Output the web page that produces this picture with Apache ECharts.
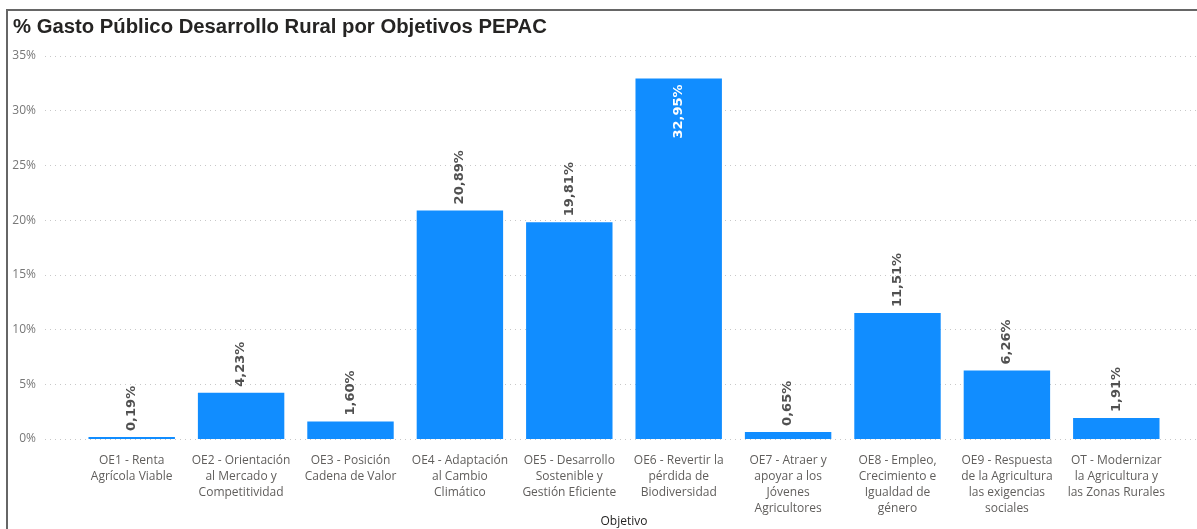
<!DOCTYPE html>
<html>
<head>
<meta charset="utf-8">
<script src="https://cdn.jsdelivr.net/npm/echarts@6/dist/echarts.min.js"></script>
<style>
html,body{margin:0;padding:0;background:#fff;}
#chart{width:1197px;height:529px;}
</style>
</head>
<body>
<div id="chart"></div>
<script>
var title = '% Gasto Público Desarrollo Rural por Objetivos PEPAC';
var categories = [
  'OE1 - Renta\nAgrícola Viable',
  'OE2 - Orientación\nal Mercado y\nCompetitividad',
  'OE3 - Posición\nCadena de Valor',
  'OE4 - Adaptación\nal Cambio\nClimático',
  'OE5 - Desarrollo\nSostenible y\nGestión Eficiente',
  'OE6 - Revertir la\npérdida de\nBiodiversidad',
  'OE7 - Atraer y\napoyar a los\nJóvenes\nAgricultores',
  'OE8 - Empleo,\nCrecimiento e\nIgualdad de\ngénero',
  'OE9 - Respuesta\nde la Agricultura\nlas exigencias\nsociales',
  'OT - Modernizar\nla Agricultura y\nlas Zonas Rurales'
];
var values = [0.19, 4.23, 1.60, 20.89, 19.81, 32.95, 0.65, 11.51, 6.26, 1.91];
var yTicks = [0, 5, 10, 15, 20, 25, 30, 35];
var xAxisName = 'Objetivo';

var chart = echarts.init(document.getElementById('chart'), null, {renderer: 'canvas'});
function fmt(v){ return v.toFixed(2).replace('.', ',') + '%'; }
var yMin = yTicks[0], yMax = yTicks[yTicks.length - 1], yInt = yTicks[1] - yTicks[0];

var barData = values.map(function (v) {
  if (v > 30) {
    return {value: v, label: {position: 'insideTop', align: 'right', distance: 6, color: '#ffffff'}};
  }
  return v;
});

chart.setOption({
  animation: false,
  backgroundColor: '#ffffff',
  title: {
    text: title,
    left: 8, top: 12,
    textStyle: {fontFamily: 'Liberation Sans', fontWeight: 'bold', fontSize: 20.3, color: '#252423'}
  },
  graphic: [{
    type: 'polyline',
    shape: {points: [[7, 529], [7, 10], [1197, 10]]},
    style: {stroke: '#666666', lineWidth: 2, fill: null},
    silent: true
  }],
  grid: [
    {left: 45, right: 0, top: 56, bottom: 90, containLabel: false, outerBoundsMode: 'none'},
    {left: 77, right: 26, top: 56, bottom: 90, containLabel: false, outerBoundsMode: 'none'}
  ],
  xAxis: [
    {gridIndex: 0, type: 'category', data: [], show: false},
    {
      gridIndex: 1, type: 'category', data: categories,
      axisLine: {show: false}, axisTick: {show: false},
      axisLabel: {
        interval: 0, margin: 14, lineHeight: 16,
        fontFamily: 'Open Sans', fontSize: 12, color: '#605E5C'
      },
      name: xAxisName, nameLocation: 'middle', nameGap: 77, nameMoveOverlap: false,
      nameTextStyle: {fontFamily: 'Open Sans', fontSize: 12, color: '#252423', fontWeight: 500}
    }
  ],
  yAxis: [
    {
      gridIndex: 0, type: 'value', min: yMin, max: yMax, interval: yInt,
      axisLine: {show: false}, axisTick: {show: false},
      axisLabel: {formatter: '{value}%', margin: 9, fontFamily: 'Open Sans', fontSize: 12, color: '#777777'},
      splitLine: {show: true, lineStyle: {type: [1, 4], color: '#c8c8c8', width: 1}}
    },
    {
      gridIndex: 1, type: 'value', min: yMin, max: yMax, interval: yInt,
      show: false, splitLine: {show: false}
    }
  ],
  series: [{
    type: 'bar',
    xAxisIndex: 1, yAxisIndex: 1,
    data: barData,
    barCategoryGap: '21%',
    itemStyle: {color: '#118DFF'},
    label: {
      show: true, position: 'top', rotate: 90, align: 'left', verticalAlign: 'middle',
      distance: 6,
      formatter: function (p) { return fmt(p.value); },
      fontFamily: 'DejaVu Sans', fontWeight: 'bold', fontSize: 13, color: '#505050'
    }
  }]
});
</script>
</body>
</html>
